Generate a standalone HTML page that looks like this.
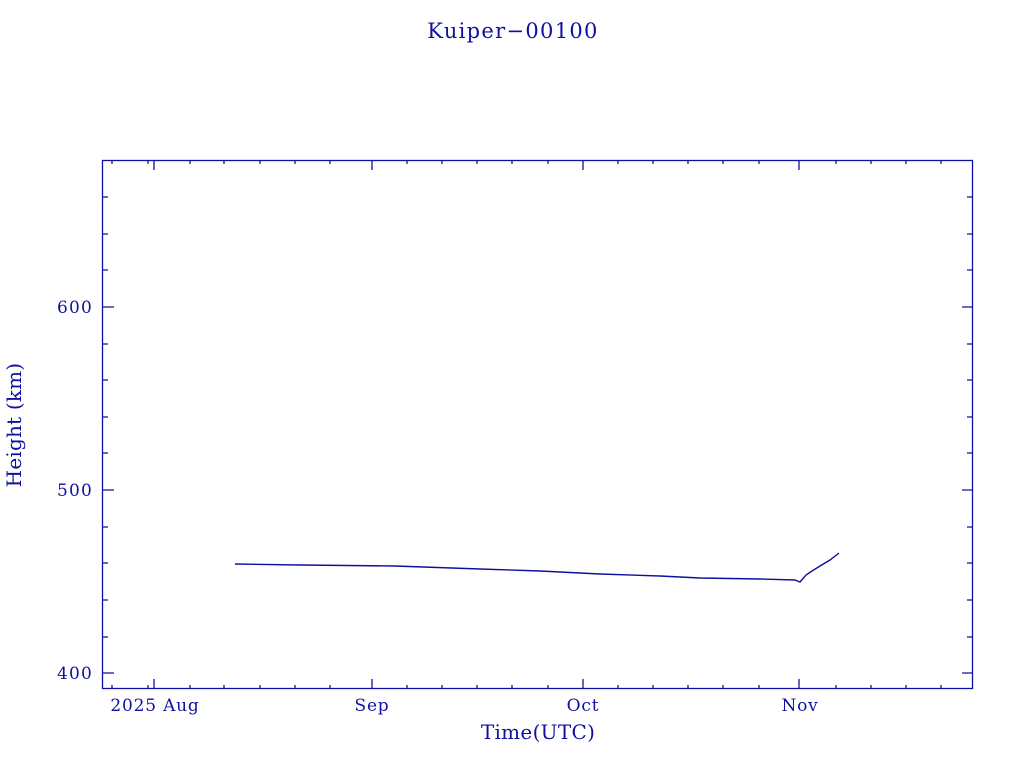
<!DOCTYPE html>
<html><head><style>body{margin:0;background:#fff}</style></head><body>
<svg width="1024" height="768" xmlns="http://www.w3.org/2000/svg" font-family="DejaVu Serif, serif" fill="#1010a0">
<rect width="1024" height="768" fill="#fff"/>
<text x="513" y="38" font-size="21" text-anchor="middle" letter-spacing="1.3">Kuiper−00100</text>
<g stroke="#1010a0" stroke-width="1.3" fill="none">
<rect x="102.5" y="160.5" width="870" height="528"/>
<path d="M102 673h12M102 490h12M102 307h12M962 673h11M962 490h11M962 307h11
M102 637h6M102 600h6M102 563h6M102 527h6M102 453h6M102 417h6M102 380h6M102 344h6M102 270h6M102 234h6M102 197h6
M967 637h6M967 600h6M967 563h6M967 527h6M967 453h6M967 417h6M967 380h6M967 344h6M967 270h6M967 234h6M967 197h6"/>
<path d="M154 689v-10M372 689v-10M583 689v-10M799 689v-10M154 160v10M372 160v10M583 160v10M799 160v10
M112 689v-4M148 689v-4M190 689v-4M224 689v-4M260 689v-4M295 689v-4M330 689v-4M407 689v-4M442 689v-4M477 689v-4M512 689v-4M548 689v-4M618 689v-4M653 689v-4M688 689v-4M723 689v-4M759 689v-4M836 689v-4M871 689v-4M906 689v-4M941 689v-4
M112 160v4M148 160v4M190 160v4M224 160v4M260 160v4M295 160v4M330 160v4M407 160v4M442 160v4M477 160v4M512 160v4M548 160v4M618 160v4M653 160v4M688 160v4M723 160v4M759 160v4M836 160v4M871 160v4M906 160v4M941 160v4"/>
<path stroke-width="1.4" d="M235 564L300 565L395 566L480 569L540 571L600 574L660 576L700 578L760 579L795 580L800 582L806 575L812 571L820 566L830 560L839 553"/>
</g>
<g font-size="17" text-anchor="end" letter-spacing="1.2">
<text x="93" y="313">600</text><text x="93" y="496">500</text><text x="93" y="679">400</text>
</g>
<g font-size="17" text-anchor="middle" letter-spacing="0.8">
<text x="155" y="711">2025 Aug</text><text x="372" y="711">Sep</text><text x="583" y="711">Oct</text><text x="800" y="711">Nov</text>
</g>
<text x="538" y="739" font-size="20" text-anchor="middle" letter-spacing="0.3">Time(UTC)</text>
<text transform="translate(21,425) rotate(-90)" font-size="20" text-anchor="middle" letter-spacing="0.2">Height (km)</text>
</svg>
</body></html>
